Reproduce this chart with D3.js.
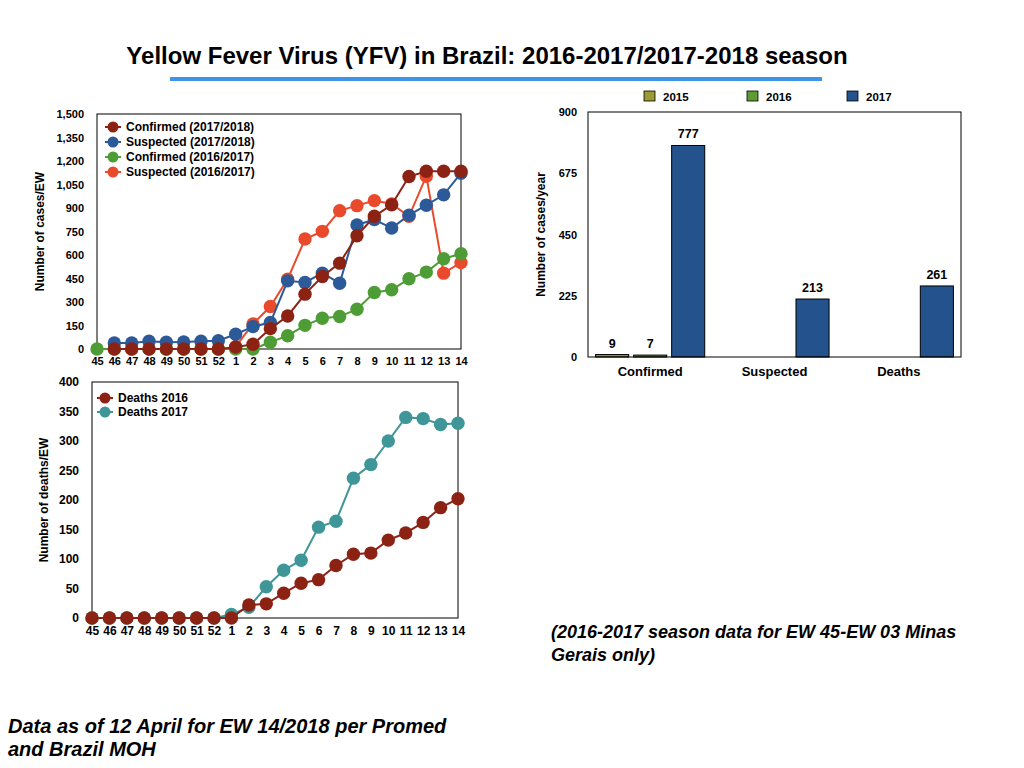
<!DOCTYPE html>
<html>
<head>
<meta charset="utf-8">
<script src="https://cdn.jsdelivr.net/npm/d3@7"></script>
<style>
  body { margin: 0; background: #fff; }
  svg { font-family: "Liberation Sans", Arial, sans-serif; font-weight: bold; }
  .axis path, .axis line { display: none; }
  .axis text { font-family: "Liberation Sans", Arial, sans-serif; font-weight: bold; fill: #000; }
</style>
</head>
<body>
<script>
// epidemiological weeks
var weeks = ["45","46","47","48","49","50","51","52","1","2","3","4","5","6","7","8","9","10","11","12","13","14"];

// cases per EW (null = not plotted)
var suspected1617 = [null,null,null,null,null,null,null,null,15,160,271,446,702,751,883,915,947,926,847,1103,484,552];
var confirmed1617 = [0,0,0,0,0,0,0,0,0,0,43,85,151,196,207,254,361,378,448,491,576,608];
var suspected1718 = [null,38,38,49,43,45,49,53,94,143,169,435,425,484,420,792,826,772,854,918,984,1122];
var confirmed1718 = [null,0,0,0,0,0,0,0,12,30,130,211,350,463,548,723,847,920,1101,1135,1135,1135];

// deaths per EW
var deaths2017 = [0,0,0,0,0,0,0,0,6,18,53,81,98,154,164,237,260,300,340,338,328,330];
var deaths2016 = [0,0,0,0,0,0,0,0,0,22,24,42,59,65,89,108,110,132,144,162,187,202];

// yearly totals
var barCategories = ["Confirmed","Suspected","Deaths"];
var barYears = ["2015","2016","2017"];
var bars2015 = [9, null, null];
var bars2016 = [7, null, null];
var bars2017 = [777, 213, 261];

var col = {
  darkred: "#8c2214", blue: "#2c5a98", green: "#4e9c35", orange: "#ea4a2c", teal: "#3f9699",
  y2015: "#9c9a33", y2016: "#5e9b34", y2017: "#24528c"
};

var svg = d3.select("body").append("svg")
    .attr("width", 1024)
    .attr("height", 768);

// title
svg.append("text")
    .attr("x", 487).attr("y", 64)
    .attr("text-anchor", "middle")
    .style("font-size", "24px")
    .text("Yellow Fever Virus (YFV) in Brazil: 2016-2017/2017-2018 season");
svg.append("line")
    .attr("x1", 170).attr("x2", 822).attr("y1", 79).attr("y2", 79)
    .attr("stroke", "#3d95e6").attr("stroke-width", 4);

function lineChart(opt) {
  var x = d3.scalePoint().domain(weeks).range([opt.left, opt.right]).padding(0);
  var y = d3.scaleLinear().domain([0, opt.max]).range([opt.bottom, opt.top]);

  svg.append("g")
    .attr("class", "axis")
    .attr("transform", "translate(" + opt.left + ",0)")
    .call(d3.axisLeft(y).tickValues(d3.range(0, opt.max + 1, opt.step)).tickFormat(d3.format(",")).tickSize(0).tickPadding(13))
    .selectAll("text").style("font-size", opt.fs + "px");

  svg.append("g")
    .attr("class", "axis")
    .attr("transform", "translate(0," + opt.bottom + ")")
    .call(d3.axisBottom(x).tickSize(0).tickPadding(8))
    .selectAll("text").style("font-size", opt.fs + "px");

  svg.append("text")
    .attr("transform", "translate(" + opt.labelX + "," + ((opt.top + opt.bottom) / 2) + ") rotate(-90)")
    .attr("text-anchor", "middle")
    .style("font-size", "12px")
    .text(opt.label);

  svg.append("rect")
    .attr("x", opt.left).attr("y", opt.top)
    .attr("width", opt.right - opt.left).attr("height", opt.bottom - opt.top)
    .attr("fill", "none").attr("stroke", "#000").attr("stroke-width", 1);

  var line = d3.line()
      .defined(function(d) { return d != null; })
      .x(function(d, i) { return x(weeks[i]); })
      .y(function(d) { return y(d); });

  opt.series.forEach(function(s) {
    var g = svg.append("g");
    g.append("path")
      .datum(s.values)
      .attr("d", line)
      .attr("fill", "none")
      .attr("stroke", s.color)
      .attr("stroke-width", 2);
    g.selectAll("circle")
      .data(s.values.map(function(v, i) { return {v: v, w: weeks[i]}; }).filter(function(d) { return d.v != null; }))
      .enter().append("circle")
      .attr("cx", function(d) { return x(d.w); })
      .attr("cy", function(d) { return y(d.v); })
      .attr("r", 6.7)
      .attr("fill", s.color);
  });

  // legend
  var leg = svg.append("g");
  opt.legend.forEach(function(s, i) {
    var ly = opt.legY + i * opt.legStep;
    leg.append("line")
      .attr("x1", opt.legX - 8).attr("x2", opt.legX + 8)
      .attr("y1", ly).attr("y2", ly)
      .attr("stroke", s.color).attr("stroke-width", 2);
    leg.append("circle")
      .attr("cx", opt.legX).attr("cy", ly).attr("r", 5.5).attr("fill", s.color);
    leg.append("text")
      .attr("x", opt.legX + 13).attr("y", ly + 4)
      .style("font-size", "12px")
      .text(s.name);
  });
}

var sConf1718 = {name: "Confirmed (2017/2018)", values: confirmed1718, color: col.darkred};
var sSusp1718 = {name: "Suspected (2017/2018)", values: suspected1718, color: col.blue};
var sConf1617 = {name: "Confirmed (2016/2017)", values: confirmed1617, color: col.green};
var sSusp1617 = {name: "Suspected (2016/2017)", values: suspected1617, color: col.orange};

lineChart({
  left: 97, right: 461, top: 114, bottom: 349, max: 1500, step: 150, fs: 11,
  label: "Number of cases/EW", labelX: 44,
  series: [sSusp1617, sConf1617, sSusp1718, sConf1718],
  legend: [sConf1718, sSusp1718, sConf1617, sSusp1617],
  legX: 113, legY: 127, legStep: 15
});

var sD2016 = {name: "Deaths 2016", values: deaths2016, color: col.darkred};
var sD2017 = {name: "Deaths 2017", values: deaths2017, color: col.teal};

lineChart({
  left: 92, right: 458, top: 382, bottom: 618, max: 400, step: 50, fs: 12,
  label: "Number of deaths/EW", labelX: 48,
  series: [sD2017, sD2016],
  legend: [sD2016, sD2017],
  legX: 105, legY: 398, legStep: 14
});

// bar chart
var bLeft = 588, bRight = 961, bTop = 112, bBottom = 357;
var barSeries = [bars2015, bars2016, bars2017];
var barColors = [col.y2015, col.y2016, col.y2017];

var x0 = d3.scaleBand().domain(barCategories).range([bLeft, bRight]);
var x1 = d3.scaleBand().domain(barYears).range([0, x0.bandwidth()]).paddingInner(0.13).paddingOuter(0.2);
var yb = d3.scaleLinear().domain([0, 900]).range([bBottom, bTop]);

svg.append("g")
  .attr("class", "axis")
  .attr("transform", "translate(" + bLeft + ",0)")
  .call(d3.axisLeft(yb).tickValues([0, 225, 450, 675, 900]).tickSize(0).tickPadding(11))
  .selectAll("text").style("font-size", "11px");

svg.append("g")
  .attr("class", "axis")
  .attr("transform", "translate(0," + bBottom + ")")
  .call(d3.axisBottom(x0).tickSize(0).tickPadding(10))
  .selectAll("text").style("font-size", "13px");

svg.append("text")
  .attr("transform", "translate(545," + ((bTop + bBottom) / 2) + ") rotate(-90)")
  .attr("text-anchor", "middle")
  .style("font-size", "12px")
  .text("Number of cases/year");

var cells = [];
barCategories.forEach(function(c, ci) {
  barYears.forEach(function(yr, yi) {
    var v = barSeries[yi][ci];
    if (v != null) cells.push({cat: c, year: yr, v: v, color: barColors[yi]});
  });
});

svg.selectAll(".bar")
  .data(cells)
  .enter().append("rect")
  .attr("class", "bar")
  .attr("x", function(d) { return x0(d.cat) + x1(d.year); })
  .attr("y", function(d) { return yb(d.v); })
  .attr("width", x1.bandwidth())
  .attr("height", function(d) { return bBottom - yb(d.v); })
  .attr("fill", function(d) { return d.color; })
  .attr("stroke", "#000")
  .attr("stroke-width", 1);

svg.selectAll(".barlabel")
  .data(cells)
  .enter().append("text")
  .attr("class", "barlabel")
  .attr("x", function(d) { return x0(d.cat) + x1(d.year) + x1.bandwidth() / 2; })
  .attr("y", function(d) { return yb(d.v) - 7; })
  .attr("text-anchor", "middle")
  .style("font-size", "12.5px")
  .text(function(d) { return d.v; });

svg.append("rect")
  .attr("x", bLeft).attr("y", bTop)
  .attr("width", bRight - bLeft).attr("height", bBottom - bTop)
  .attr("fill", "none").attr("stroke", "#000").attr("stroke-width", 1);

var legXs = [644, 747, 847];
barYears.forEach(function(yr, i) {
  svg.append("rect")
    .attr("x", legXs[i]).attr("y", 91)
    .attr("width", 11).attr("height", 10)
    .attr("fill", barColors[i]).attr("stroke", "#000").attr("stroke-width", 0.8);
  svg.append("text")
    .attr("x", legXs[i] + 19).attr("y", 100.5)
    .style("font-size", "11.5px")
    .text(yr);
});

// notes
var note = svg.append("g")
  .style("font-style", "italic");
note.append("text").attr("x", 551).attr("y", 638).style("font-size", "18px")
  .text("(2016-2017 season data for EW 45-EW 03 Minas");
note.append("text").attr("x", 551).attr("y", 661).style("font-size", "18px")
  .text("Gerais only)");
note.append("text").attr("x", 8).attr("y", 733).style("font-size", "20px")
  .text("Data as of 12 April for EW 14/2018 per Promed");
note.append("text").attr("x", 8).attr("y", 756).style("font-size", "20px")
  .text("and Brazil MOH");
</script>
</body>
</html>
